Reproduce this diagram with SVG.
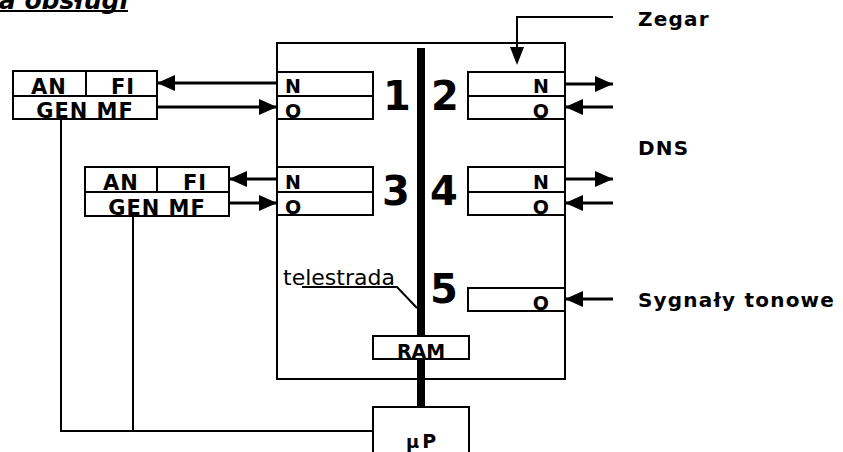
<svg xmlns="http://www.w3.org/2000/svg" width="843" height="452" viewBox="0 0 843 452">
<defs>
<marker id="ah" viewBox="0 0 18 16" refX="18" refY="8" markerWidth="18" markerHeight="16" markerUnits="userSpaceOnUse" orient="auto"><path d="M0,0 L18,8 L0,16 z" fill="#000"/></marker>
</defs>
<style>
.box{fill:#fff;stroke:#000;stroke-width:2}
.ln{fill:none;stroke:#000;stroke-width:2}
.arr{fill:none;stroke:#000;stroke-width:3;marker-end:url(#ah)}
.lb{font-family:"DejaVu Sans",Verdana,sans-serif;font-weight:bold;font-size:21px;letter-spacing:1px;fill:#000}
.pt{font-family:"DejaVu Sans",Verdana,sans-serif;font-weight:bold;font-size:19px;fill:#000}
.num{font-family:"DejaVu Sans",Verdana,sans-serif;font-weight:bold;font-size:40px;fill:#000;text-anchor:middle}
.ext{font-family:"DejaVu Sans",Verdana,sans-serif;font-weight:bold;font-size:20px;letter-spacing:1.2px;fill:#000}
</style>
<rect width="843" height="452" fill="#fff"/>
<g id="title">
<text x="128" y="9" text-anchor="end" font-family="'DejaVu Sans',Verdana,sans-serif" font-weight="bold" font-style="italic" font-size="25" fill="#000">a obsługi</text>
<line x1="0" y1="11" x2="128" y2="11" stroke="#000" stroke-width="2"/>
</g>
<g id="main">
<rect class="box" x="277" y="43" width="288" height="336"/>
</g>
<g id="bus">
<line x1="421" y1="48" x2="421" y2="407" stroke="#000" stroke-width="8"/>
</g>
<g id="port1">
<rect class="box" x="277" y="72" width="96" height="24"/>
<rect class="box" x="277" y="96" width="96" height="23"/>
<text class="pt" x="285" y="93">N</text>
<text class="pt" x="285" y="118">O</text>
<text class="num" x="397" y="110">1</text>
</g>
<g id="port2">
<rect class="box" x="468" y="72" width="97" height="24"/>
<rect class="box" x="468" y="96" width="97" height="23"/>
<text class="pt" x="549" y="93" text-anchor="end">N</text>
<text class="pt" x="549" y="118" text-anchor="end">O</text>
<text class="num" x="445" y="110">2</text>
</g>
<g id="port3">
<rect class="box" x="277" y="167" width="96" height="25"/>
<rect class="box" x="277" y="192" width="96" height="23"/>
<text class="pt" x="285" y="189">N</text>
<text class="pt" x="285" y="214">O</text>
<text class="num" x="396" y="205">3</text>
</g>
<g id="port4">
<rect class="box" x="468" y="167" width="97" height="25"/>
<rect class="box" x="468" y="192" width="97" height="23"/>
<text class="pt" x="549" y="189" text-anchor="end">N</text>
<text class="pt" x="549" y="214" text-anchor="end">O</text>
<text class="num" x="444" y="205">4</text>
</g>
<g id="port5">
<rect class="box" x="468" y="288" width="97" height="23"/>
<text class="pt" x="549" y="310" text-anchor="end">O</text>
<text class="num" x="444" y="303">5</text>
</g>
<g id="telestrada">
<text x="283" y="285" font-family="'DejaVu Sans',Verdana,sans-serif" font-size="22" fill="#000">telestrada</text>
<polyline class="ln" points="302,287 397,287 417,308" stroke-width="1.5"/>
</g>
<g id="ram">
<rect class="box" x="373" y="336" width="96" height="23"/>
<text class="pt" x="421" y="358" text-anchor="middle" font-size="20">RAM</text>
</g>
<g id="up">
<rect class="box" x="373" y="407" width="96" height="50"/>
<text class="pt" x="421" y="448" text-anchor="middle" font-size="21"><tspan font-size="18">μ</tspan><tspan dx="3">P</tspan></text>
</g>
<g id="ext1">
<rect class="box" x="13" y="71" width="73" height="25"/>
<rect class="box" x="86" y="71" width="71" height="25"/>
<rect class="box" x="13" y="96" width="144" height="23"/>
<text class="lb" x="49" y="94" text-anchor="middle">AN</text>
<text class="lb" x="123" y="94" text-anchor="middle">FI</text>
<text class="lb" x="85" y="118" text-anchor="middle">GEN MF</text>
</g>
<g id="ext2">
<rect class="box" x="85" y="167" width="72" height="25"/>
<rect class="box" x="157" y="167" width="72" height="25"/>
<rect class="box" x="85" y="192" width="144" height="24"/>
<text class="lb" x="121" y="190" text-anchor="middle">AN</text>
<text class="lb" x="195" y="190" text-anchor="middle">FI</text>
<text class="lb" x="157" y="215" text-anchor="middle">GEN MF</text>
</g>
<g id="labels">
<text class="ext" x="638" y="26">Zegar</text>
<text class="ext" x="638" y="155">DNS</text>
<text class="ext" x="638" y="307">Sygnały tonowe</text>
</g>
<g id="connectors">
<line class="arr" x1="277" y1="83" x2="157" y2="83"/>
<line class="arr" x1="157" y1="107" x2="277" y2="107"/>
<line class="arr" x1="277" y1="179" x2="229" y2="179"/>
<line class="arr" x1="229" y1="203" x2="277" y2="203"/>
<line class="arr" x1="565" y1="84" x2="613" y2="84"/>
<line class="arr" x1="613" y1="107" x2="565" y2="107"/>
<line class="arr" x1="565" y1="179" x2="613" y2="179"/>
<line class="arr" x1="613" y1="203" x2="565" y2="203"/>
<line class="arr" x1="613" y1="299" x2="565" y2="299"/>
<polyline class="ln" points="613,17 517,17 517,48"/>
<path d="M510,47 L524,47 L517,65 z" fill="#000"/>
<polyline class="ln" points="61,119 61,431 373,431"/>
<line class="ln" x1="133" y1="216" x2="133" y2="431"/>
</g>
</svg>
